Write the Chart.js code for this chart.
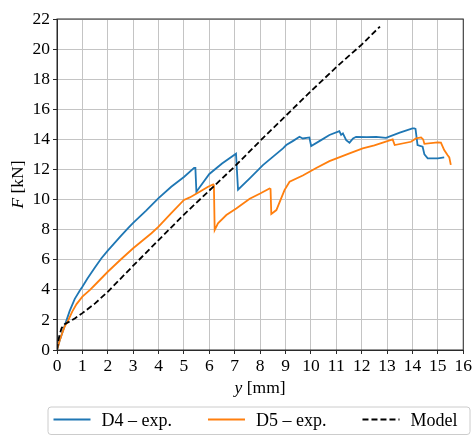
<!DOCTYPE html>
<html lang="en">
  <head>
    <meta charset="UTF-8" />
    <title>F - y curves</title>
    <script src="https://cdn.jsdelivr.net/npm/chart.js"></script>
    <style>
      body { margin: 0; background: #fff; }
      canvas { display: block; }
    </style>
  </head>
  <body>
    <canvas id="chart" width="474" height="436"></canvas>

    <script>
      // displacement y [mm] and force F [kN]
      const d4Y = [0, 0.1, 0.2, 0.3, 0.38, 0.5, 0.7, 0.9, 1.0, 1.2, 1.5, 1.75, 2.0, 2.5, 2.8, 3.0, 3.5, 4.0, 4.5, 5.0, 5.4, 5.45, 5.49, 6.0, 6.5, 7.05, 7.08, 7.13, 7.59, 8.11, 8.9, 9.03, 9.3, 9.55, 9.68, 9.94, 10.01, 10.4, 10.73, 11.12, 11.19, 11.26, 11.39, 11.52, 11.66, 11.78, 12.2, 12.57, 12.96, 13.5, 14.0, 14.07, 14.12, 14.2, 14.4, 14.47, 14.6, 15.0, 15.25];
      const d4F = [0, 0.6, 1.1, 1.6, 2.0, 2.6, 3.4, 3.95, 4.2, 4.75, 5.5, 6.1, 6.6, 7.55, 8.1, 8.45, 9.25, 10.1, 10.85, 11.5, 12.1, 12.1, 10.52, 11.7, 12.4, 13.05, 13.05, 10.65, 11.41, 12.29, 13.4, 13.62, 13.9, 14.17, 14.06, 14.13, 13.55, 13.95, 14.29, 14.55, 14.3, 14.4, 13.95, 13.78, 14.06, 14.17, 14.15, 14.17, 14.1, 14.45, 14.73, 14.73, 14.7, 13.62, 13.51, 13.0, 12.74, 12.74, 12.8];

      const d5Y = [0, 0.1, 0.2, 0.3, 0.45, 0.6, 0.77, 1.0, 1.3, 1.49, 2.0, 2.5, 3.0, 3.72, 4.0, 4.5, 5.0, 5.23, 5.62, 5.95, 6.15, 6.18, 6.21, 6.34, 6.67, 7.06, 7.59, 8.0, 8.37, 8.41, 8.44, 8.64, 8.96, 9.16, 9.68, 10.21, 10.73, 11.52, 12.04, 12.5, 13.22, 13.3, 13.94, 14.14, 14.34, 14.42, 14.47, 14.99, 15.12, 15.25, 15.38, 15.45, 15.51];
      const d5F = [0, 0.6, 1.1, 1.55, 2.0, 2.55, 3.05, 3.55, 4.0, 4.32, 5.2, 6.0, 6.76, 7.76, 8.2, 9.1, 9.97, 10.14, 10.52, 10.85, 11.0, 10.9, 7.97, 8.42, 8.97, 9.41, 10.05, 10.4, 10.74, 10.7, 9.04, 9.3, 10.63, 11.18, 11.6, 12.1, 12.55, 13.07, 13.4, 13.6, 14.0, 13.62, 13.84, 14.06, 14.13, 14.0, 13.7, 13.8, 13.78, 13.29, 12.96, 12.8, 12.3];

      const modelY = [0, 0.05, 0.1, 0.18, 0.3, 0.45, 0.7, 1.0, 1.5, 2.0, 3.0, 4.0, 5.0, 6.0, 7.0, 8.0, 9.0, 10.0, 11.0, 12.0, 12.72];
      const modelF = [0, 0.6, 1.0, 1.45, 1.72, 1.85, 2.1, 2.45, 3.1, 3.87, 5.6, 7.3, 9.0, 10.6, 12.2, 13.9, 15.55, 17.2, 18.8, 20.3, 21.5];

      const labels = ["D4 \u2013 exp.", "D5 \u2013 exp.", "Model"];
      const colors = ["#1f77b4", "#ff7f0e", "#000000"];

      const FONT = "'Liberation Serif', 'Times New Roman', serif";

      function toPoints(xs, ys) {
        return xs.map((x, i) => ({ x: x, y: ys[i] }));
      }

      // draw a string made of pieces with different fonts, centred on cx
      function drawParts(ctx, parts, cx, cy) {
        let total = 0;
        parts.forEach((p) => {
          ctx.font = p.font;
          total += ctx.measureText(p.text).width;
        });
        let x = cx - total / 2;
        parts.forEach((p) => {
          ctx.font = p.font;
          ctx.fillText(p.text, x, cy);
          x += ctx.measureText(p.text).width;
        });
      }

      const extras = {
        id: "extras",
        afterDraw(chart) {
          const ctx = chart.ctx;
          const a = chart.chartArea;
          ctx.save();

          // frame on all four sides
          ctx.strokeStyle = "#2b2b2b";
          ctx.lineWidth = 1;
          ctx.strokeRect(a.left, a.top, a.right - a.left, a.bottom - a.top);

          // axis titles
          ctx.fillStyle = "#000";
          ctx.textAlign = "left";
          ctx.textBaseline = "alphabetic";
          drawParts(ctx, [
            { text: "y", font: "italic 17.5px " + FONT },
            { text: " [mm]", font: "17.5px " + FONT },
          ], (a.left + a.right) / 2, 393);

          ctx.save();
          ctx.translate(23, (a.top + a.bottom) / 2);
          ctx.rotate(-Math.PI / 2);
          drawParts(ctx, [
            { text: "F", font: "italic 17.5px " + FONT },
            { text: " [kN]", font: "17.5px " + FONT },
          ], 0, 0);
          ctx.restore();

          // legend box
          ctx.font = "18px " + FONT;
          ctx.beginPath();
          ctx.roundRect(48, 407, 422, 27.5, 3);
          ctx.fillStyle = "rgba(255,255,255,0.8)";
          ctx.fill();
          ctx.strokeStyle = "#cccccc";
          ctx.lineWidth = 1;
          ctx.stroke();

          let x = 53.5;
          chart.data.datasets.forEach((ds) => {
            ctx.beginPath();
            ctx.setLineDash(ds.borderDash || []);
            ctx.strokeStyle = ds.borderColor;
            ctx.lineWidth = ds.borderWidth;
            ctx.moveTo(x, 419.5);
            ctx.lineTo(x + 37, 419.5);
            ctx.stroke();
            ctx.setLineDash([]);
            ctx.fillStyle = "#000";
            ctx.textBaseline = "middle";
            ctx.fillText(ds.label, x + 48, 421.5);
            x += 48 + ctx.measureText(ds.label).width + 36;
          });

          ctx.restore();
        },
      };

      new Chart(document.getElementById("chart"), {
        type: "line",
        data: {
          datasets: [
            {
              label: labels[0],
              data: toPoints(d4Y, d4F),
              borderColor: colors[0],
              borderWidth: 1.8,
              order: 3,
            },
            {
              label: labels[1],
              data: toPoints(d5Y, d5F),
              borderColor: colors[1],
              borderWidth: 1.8,
              order: 2,
            },
            {
              label: labels[2],
              data: toPoints(modelY, modelF),
              borderColor: colors[2],
              borderWidth: 1.8,
              borderDash: [6, 3],
              order: 1,
            },
          ],
        },
        options: {
          responsive: false,
          animation: false,
          devicePixelRatio: 1,
          layout: { padding: { top: 19, right: 10, left: 0, bottom: 0 } },
          elements: {
            point: { radius: 0 },
            line: { tension: 0, fill: false },
          },
          plugins: {
            legend: { display: false },
            tooltip: { enabled: false },
          },
          scales: {
            x: {
              type: "linear",
              min: 0,
              max: 16,
              afterFit: (s) => { s.height = 86; },
              ticks: {
                stepSize: 1,
                color: "#000",
                padding: 2,
                maxRotation: 0,
                font: { family: FONT, size: 17.5 },
              },
              grid: {
                color: "#c4c4c4",
                lineWidth: 1,
                tickColor: "#2b2b2b",
                tickLength: 4,
              },
              border: { color: "#2b2b2b" },
            },
            y: {
              type: "linear",
              min: 0,
              max: 22,
              afterFit: (s) => { s.width = 57; },
              ticks: {
                stepSize: 2,
                color: "#000",
                padding: 3,
                font: { family: FONT, size: 17.5 },
              },
              grid: {
                color: "#c4c4c4",
                lineWidth: 1,
                tickColor: "#2b2b2b",
                tickLength: 4,
              },
              border: { color: "#2b2b2b" },
            },
          },
        },
        plugins: [extras],
      });
    </script>
  </body>
</html>
